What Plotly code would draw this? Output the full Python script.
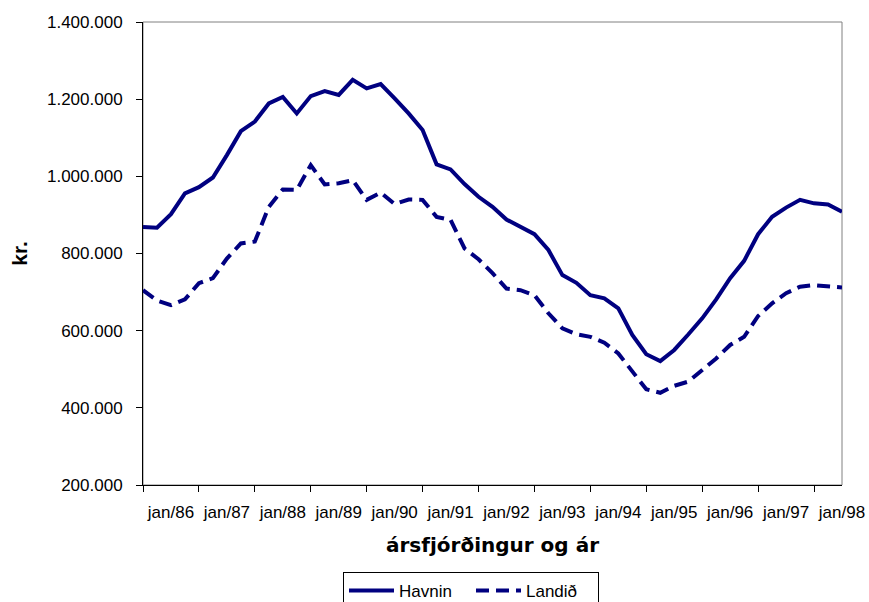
import plotly.graph_objects as go

quarter_index = list(range(51))

havnin = [869000, 867000, 902000, 956000, 972000, 997000, 1055000, 1117000, 1142000, 1189000,
          1206000, 1163000, 1208000, 1221000, 1211000, 1250000, 1228000, 1239000, 1202000, 1163000,
          1120000, 1031000, 1018000, 980000, 947000, 921000, 888000, 869000, 850000, 809000,
          744000, 724000, 692000, 684000, 658000, 589000, 539000, 521000, 550000, 590000,
          632000, 681000, 736000, 781000, 850000, 895000, 919000, 939000, 930000, 927000, 908000]

landid = [705000, 678000, 666000, 681000, 723000, 736000, 787000, 826000, 831000, 921000,
          966000, 965000, 1029000, 979000, 982000, 990000, 939000, 958000, 928000, 940000,
          939000, 895000, 887000, 813000, 785000, 749000, 709000, 705000, 692000, 645000,
          606000, 591000, 584000, 569000, 541000, 496000, 448000, 439000, 457000, 468000,
          498000, 528000, 563000, 584000, 638000, 671000, 697000, 714000, 718000, 716000, 712000]

label_positions = [2, 6, 10, 14, 18, 22, 26, 30, 34, 38, 42, 46, 50]
tick_labels = ["jan/86", "jan/87", "jan/88", "jan/89", "jan/90", "jan/91", "jan/92",
               "jan/93", "jan/94", "jan/95", "jan/96", "jan/97", "jan/98"]

FONT = "Liberation Sans, Arial, sans-serif"
NAVY = "#000080"

fig = go.Figure()
fig.add_trace(go.Scatter(x=quarter_index, y=havnin, mode="lines", name="Havnin",
                         line=dict(color=NAVY, width=4)))
fig.add_trace(go.Scatter(x=quarter_index, y=landid, mode="lines", name="Landið",
                         line=dict(color=NAVY, width=4, dash="13px,7px")))

fig.update_layout(
    width=869, height=602,
    margin=dict(l=143, r=27, t=22, b=117),
    paper_bgcolor="white", plot_bgcolor="white",
    separators=",.",
    font=dict(family=FONT, size=17, color="black"),
    showlegend=True,
    legend=dict(orientation="h", xref="paper", x=(343 - 143) / 699, xanchor="left",
                yref="container", y=1 - 572 / 602, yanchor="top",
                bordercolor="black", borderwidth=1, font=dict(size=17),
                itemwidth=45, entrywidth=67, entrywidthmode="pixels"),
    shapes=[dict(type="rect", xref="paper", yref="paper", x0=0, x1=1, y0=0, y1=1,
                 line=dict(color="#808080", width=1), layer="below")],
)

fig.update_xaxes(
    range=[0, 50], tickmode="array", tickvals=label_positions, ticktext=tick_labels,
    ticks="", showgrid=False, zeroline=False,
    showline=True, linecolor="black", linewidth=1,
    tickfont=dict(size=17), ticklabelstandoff=12,
    minor=dict(tickmode="linear", tick0=0, dtick=4, ticks="outside", ticklen=6,
               tickcolor="black", tickwidth=1, showgrid=False),
    title=dict(text="<b>ársfjórðingur og ár</b>",
               font=dict(size=20, family="DejaVu Sans, sans-serif"), standoff=16),
    automargin=False,
)
fig.update_yaxes(
    range=[200000, 1400000], tickmode="linear", tick0=200000, dtick=200000,
    tickformat=",.0f", ticks="outside", ticklen=6, tickcolor="black",
    showgrid=False, zeroline=False, showline=True, linecolor="black", linewidth=1,
    tickfont=dict(size=17), ticklabelstandoff=10,
    title=dict(text="<b>kr.</b>", font=dict(size=21), standoff=13),
    automargin=False,
)

fig.write_html("out.html", config={"displayModeBar": False},
               post_script="document.body.style.margin='0px';")
